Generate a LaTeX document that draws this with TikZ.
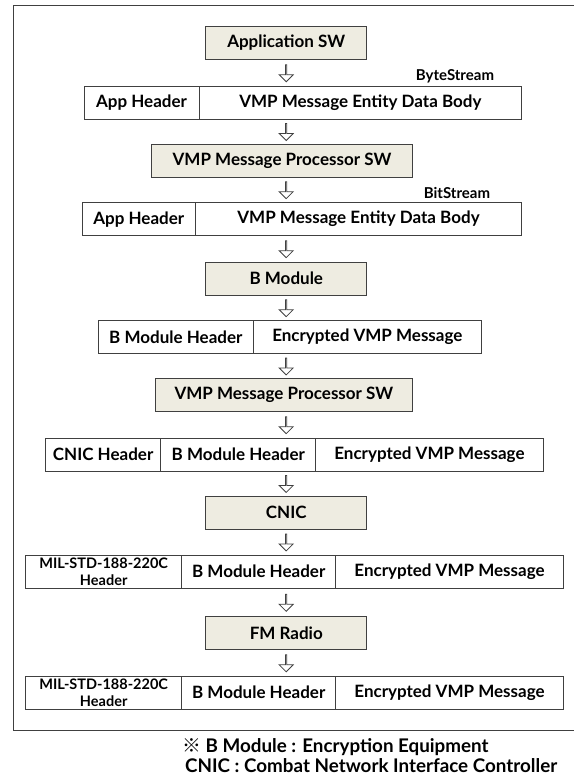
\documentclass[tikz,border=0pt]{standalone}
\usepackage{fontspec}
\setmainfont{Lato}
\newfontfamily\cjkfont{Noto Sans CJK KR}
\usepackage{tikz}
\usetikzlibrary{calc, positioning, shapes.arrows}
\definecolor{tanfill}{RGB}{238,236,225}
\definecolor{edgegray}{RGB}{64,64,64}
\newcommand{\mainsize}{\fontsize{17}{20}\selectfont\bfseries}
\newcommand{\smallsize}{\fontsize{15}{17}\selectfont\bfseries}
\newcommand{\milsize}{\fontsize{14.5}{16.5}\selectfont\bfseries}
\newcommand{\notesize}{\fontsize{18.8}{22}\selectfont\bfseries}
\tikzset{
    blocknode/.style = {draw=edgegray, fill=tanfill, rectangle, line width=1pt, outer sep=0pt,
      minimum width=161pt, minimum height=33pt, inner sep=0pt, node distance=0em, font=\mainsize},
    cellnode/.style = {draw=edgegray, fill=white, rectangle, line width=1pt, outer sep=0pt,
      minimum height=33pt, inner sep=0pt, node distance=0em, font=\mainsize},
    milnode/.style = {cellnode, font=\milsize},
    smalltextnode/.style = {draw=none, fill=none, rectangle, inner sep=0pt, font=\smallsize},
    notenode/.style = {draw=none, fill=none, rectangle, inner sep=0pt, font=\notesize},
    flowarrow/.style = {single arrow, draw=edgegray, fill=white, line width=0.8pt,
      shape border rotate=270, minimum height=17pt, minimum width=14pt,
      single arrow head extend=4pt, inner sep=0pt},
    every text node part/.style={align=center}
}

\begin{document}
\begin{tikzpicture}[x=1pt, y=1pt]
    \useasboundingbox (0,0) rectangle (573,-776);
    \draw [edgegray, line width=1pt] (575,-6) -- (13.3,-6) -- (13.3,-730.3) -- (575,-730.3);

    \node [blocknode, name=appsw] at (286.2,-43) {Application SW};
    \node [cellnode, name=hdrA, minimum width=115pt, below of=appsw, xshift=-144.7pt, yshift=-59.9pt] {App Header};
    \node [cellnode, name=bodyA, minimum width=322.7pt, right=0pt of hdrA] {VMP Message Entity Data Body};
    \node [smalltextnode, name=byteS] at ($(bodyA.north east)+(-66.7,9.7)$) {ByteStream};

    \node [blocknode, name=procA, minimum width=260.6pt, below of=appsw, xshift=-4.2pt, yshift=-117.5pt] {VMP Message Processor SW};
    \node [cellnode, name=hdrB, minimum width=113.3pt, below of=procA, xshift=-143.2pt, yshift=-58.7pt] {App Header};
    \node [cellnode, name=bodyB, minimum width=326.1pt, right=0pt of hdrB] {VMP Message Entity Data Body};
    \node [smalltextnode, name=bitS] at ($(bodyB.north east)+(-64.6,9.7)$) {BitStream};

    \node [blocknode, name=bmod, below of=procA, xshift=4.3pt, yshift=-118pt] {B Module};
    \node [cellnode, name=hdrC, minimum width=155pt, below of=bmod, xshift=-110.5pt, yshift=-58.7pt] {B Module Header};
    \node [cellnode, name=bodyC, minimum width=228.1pt, right=0pt of hdrC] {Encrypted VMP Message};

    \node [blocknode, name=procB, minimum width=256.3pt, below of=bmod, xshift=-2.4pt, yshift=-116.5pt] {VMP Message Processor SW};
    \node [cellnode, name=hdrD, minimum width=115.7pt, below of=procB, xshift=-180.8pt, yshift=-59.7pt] {CNIC Header};
    \node [cellnode, name=midD, minimum width=154.7pt, right=0pt of hdrD] {B Module Header};
    \node [cellnode, name=bodyD, minimum width=227.6pt, right=0pt of midD] {Encrypted VMP Message};

    \node [blocknode, name=cnic, below of=procB, xshift=2.4pt, yshift=-117.5pt] {CNIC};
    \node [milnode, name=hdrE, minimum width=156pt, below of=cnic, xshift=-182.6pt, yshift=-59.2pt] {MIL-STD-188-220C\\Header};
    \node [cellnode, name=midE, minimum width=154pt, right=0pt of hdrE] {B Module Header};
    \node [cellnode, name=bodyE, minimum width=227.6pt, right=0pt of midE] {Encrypted VMP Message};

    \node [blocknode, name=fmradio, below of=cnic, yshift=-120.8pt] {FM Radio};
    \node [milnode, name=hdrF, minimum width=156pt, below of=fmradio, xshift=-182.6pt, yshift=-59.4pt] {MIL-STD-188-220C\\Header};
    \node [cellnode, name=midF, minimum width=154pt, right=0pt of hdrF] {B Module Header};
    \node [cellnode, name=bodyF, minimum width=227.6pt, right=0pt of midF] {Encrypted VMP Message};

    % hollow arrows on one vertical line
    \node [flowarrow] at ($(appsw.south)!0.5!(appsw.south |- hdrA.north)$) {};
    \node [flowarrow] at ($(appsw.south |- hdrA.south)!0.5!(appsw.south |- procA.north)$) {};
    \node [flowarrow] at ($(appsw.south |- procA.south)!0.5!(appsw.south |- hdrB.north)$) {};
    \node [flowarrow] at ($(appsw.south |- hdrB.south)!0.5!(appsw.south |- bmod.north)$) {};
    \node [flowarrow] at ($(appsw.south |- bmod.south)!0.5!(appsw.south |- hdrC.north)$) {};
    \node [flowarrow] at ($(appsw.south |- hdrC.south)!0.5!(appsw.south |- procB.north)$) {};
    \node [flowarrow] at ($(appsw.south |- procB.south)!0.5!(appsw.south |- hdrD.north)$) {};
    \node [flowarrow] at ($(appsw.south |- hdrD.south)!0.5!(appsw.south |- cnic.north)$) {};
    \node [flowarrow] at ($(appsw.south |- cnic.south)!0.5!(appsw.south |- hdrE.north)$) {};
    \node [flowarrow] at ($(appsw.south |- hdrE.south)!0.5!(appsw.south |- fmradio.north)$) {};
    \node [flowarrow] at ($(appsw.south |- fmradio.south)!0.5!(appsw.south |- hdrF.north)$) {};

    \node [notenode, anchor=base west, name=noteA] at (182,-752.5) {{\cjkfont ※} B Module : Encryption Equipment};
    \node [notenode, anchor=base west, name=noteB] at ($(noteA.base west)+(3,-19.8)$) {CNIC : Combat Network Interface Controller};
\end{tikzpicture}
\end{document}
